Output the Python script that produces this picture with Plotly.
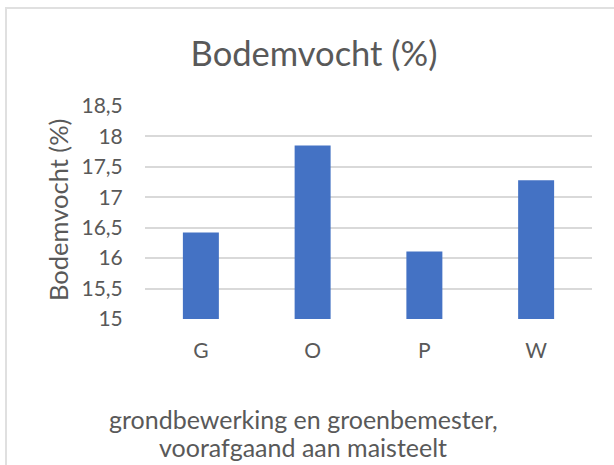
import plotly.graph_objects as go

categories = ["G", "O", "P", "W"]
values = [16.42, 17.85, 16.11, 17.28]
tick_values = [15, 15.5, 16, 16.5, 17, 17.5, 18, 18.5]
tick_labels = ["15", "15,5", "16", "16,5", "17", "17,5", "18", "18,5"]
chart_title = "Bodemvocht (%)"
y_title = "Bodemvocht (%)"
x_title_lines = ["grondbewerking en groenbemester,", "voorafgaand aan maisteelt"]

W, H = 614, 465
L, R, T, B = 145, 592, 106, 319  # plot area in pixels


def px_x(x):
    return (x - L) / (R - L)


def px_y(y):
    return (B - y) / (B - T)


FONT = "Lato"
TXT = "#595959"

fig = go.Figure(
    go.Bar(x=categories, y=values, marker=dict(color="#4472C4", line=dict(width=0)))
)

fig.update_layout(
    width=W,
    height=H,
    margin=dict(l=L, r=W - R, t=T, b=H - B, pad=0),
    paper_bgcolor="white",
    plot_bgcolor="white",
    bargap=0.678,
    showlegend=False,
    font=dict(family=FONT, color=TXT),
    title=dict(
        text=chart_title,
        x=314 / W,
        xanchor="center",
        xref="container",
        y=1 - 54 / H,
        yanchor="middle",
        yref="container",
        font=dict(size=34.5, color=TXT, family=FONT),
    ),
)

fig.update_yaxes(
    range=[15, 18.5],
    tickvals=tick_values,
    ticktext=tick_labels,
    showgrid=True,
    gridcolor="#d9d9d9",
    gridwidth=2,
    zeroline=False,
    showline=False,
    ticks="outside",
    ticklen=17,
    tickcolor="rgba(0,0,0,0)",
    tickfont=dict(size=21, color=TXT, family=FONT),
    fixedrange=True,
)

fig.update_xaxes(
    showgrid=False,
    zeroline=False,
    showline=False,
    ticks="outside",
    ticklen=13,
    tickcolor="rgba(0,0,0,0)",
    tickfont=dict(size=21, color=TXT, family=FONT),
    fixedrange=True,
)

# axis titles
fig.add_annotation(
    text=y_title,
    textangle=-90,
    xref="paper",
    yref="paper",
    x=px_x(58),
    y=px_y(210),
    xanchor="center",
    yanchor="middle",
    showarrow=False,
    font=dict(size=25.5, color=TXT, family=FONT),
)
for i, line in enumerate(x_title_lines):
    fig.add_annotation(
        text=line,
        xref="paper",
        yref="paper",
        x=px_x(303),
        y=px_y(419 + 28 * i),
        xanchor="center",
        yanchor="middle",
        showarrow=False,
        font=dict(size=25, color=TXT, family=FONT),
    )

# chart border (left and top visible)
fig.add_shape(
    type="line", xref="paper", yref="paper",
    x0=px_x(6), x1=px_x(6), y0=px_y(8), y1=px_y(470),
    line=dict(color="#e0e0e0", width=2),
)
fig.add_shape(
    type="line", xref="paper", yref="paper",
    x0=px_x(5), x1=px_x(620), y0=px_y(8), y1=px_y(8),
    line=dict(color="#e0e0e0", width=2),
)

fig.write_html(
    "out.html",
    config={"displayModeBar": False},
    post_script="document.body.style.margin='0';document.body.style.overflow='hidden';",
)
